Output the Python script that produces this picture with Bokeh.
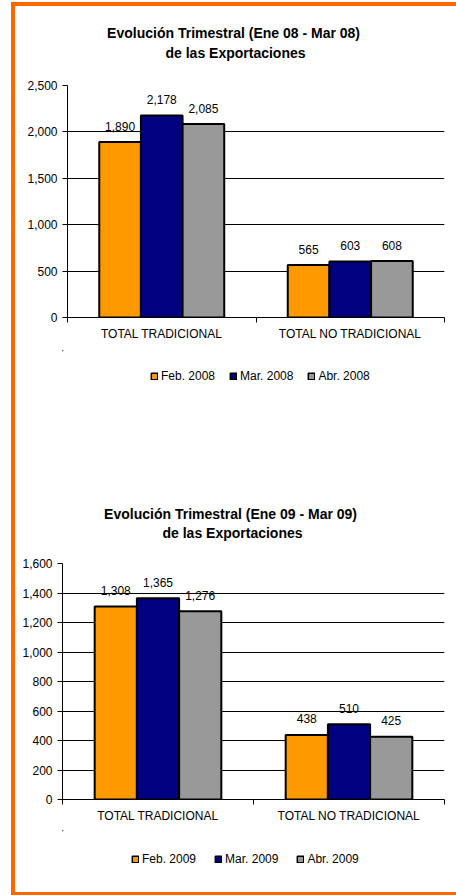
from bokeh.plotting import figure
from bokeh.models import (Range1d, FixedTicker, NumeralTickFormatter, ColumnDataSource,
                          LabelSet, Label, Legend, LegendItem, Spacer)
from bokeh.core.properties import value
from bokeh.layouts import column, row
from bokeh.embed import file_html
from bokeh.resources import INLINE

# ---------------- data ----------------
categories = ["TOTAL TRADICIONAL", "TOTAL NO TRADICIONAL"]

months_2008 = ["Feb. 2008", "Mar. 2008", "Abr. 2008"]
feb_2008 = [1890, 565]
mar_2008 = [2178, 603]
abr_2008 = [2085, 608]
y_ticks_2008 = [0, 500, 1000, 1500, 2000, 2500]
title_2008 = ["Evolución Trimestral  (Ene 08 - Mar 08)", "de las Exportaciones"]

months_2009 = ["Feb. 2009", "Mar. 2009", "Abr. 2009"]
feb_2009 = [1308, 438]
mar_2009 = [1365, 510]
abr_2009 = [1276, 425]
y_ticks_2009 = [0, 200, 400, 600, 800, 1000, 1200, 1400, 1600]
title_2009 = ["Evolución Trimestral  (Ene 09 - Mar 09)", "de las Exportaciones"]

bar_colors = ["#FF9900", "#000080", "#999999"]
FONT = "Liberation Sans"
BORDER = "#FF6600"
W = 441
BL, BR = 47, 12   # common left / right borders of every figure


def blank_fig(H):
    f = figure(width=W, height=H, output_backend="svg", toolbar_location=None, tools="",
               x_range=Range1d(BL, W - BR), y_range=Range1d(H, 0),
               x_axis_type=None, y_axis_type=None,
               min_border_left=BL, min_border_right=BR, min_border_top=0,
               min_border_bottom=0, title=None)
    f.outline_line_color = None
    f.background_fill_color = "white"
    f.border_fill_color = "white"
    return f


def make_header(H, lines, cx, cys):
    h = blank_fig(H)
    for t, y in zip(lines, cys):
        h.add_layout(Label(x=cx, y=y, text=t, text_align="center", text_baseline="middle",
                           text_font=FONT, text_font_size="14px",
                           text_font_style="bold", text_color="black"))
    return h


def make_legend(H, months, loc, spacing):
    lf = blank_fig(H)
    items = []
    for m, c in zip(months, bar_colors):
        # legend swatch renderer, kept far outside the visible range
        r = lf.vbar(x=[-5000], top=[-5000], bottom=-5000, width=1, fill_color=c,
                    line_color="black", line_width=1.5)
        items.append(LegendItem(label=m, renderers=[r]))
    lf.add_layout(Legend(items=items, orientation="horizontal", location=loc,
                         glyph_width=8, glyph_height=8, label_standoff=3,
                         spacing=spacing, padding=0, margin=0,
                         border_line_color=None, background_fill_alpha=0,
                         label_text_font=FONT, label_text_font_size="12px",
                         label_text_color="black"))
    return lf


def make_chart(width, H, tb, series, yticks):
    top, bottom = tb
    n = len(categories)
    p = figure(width=width, height=H, output_backend="svg", toolbar_location=None, tools="",
               x_range=Range1d(0, n), y_range=Range1d(yticks[0], yticks[-1]),
               min_border_left=BL, min_border_right=BR,
               min_border_top=top, min_border_bottom=bottom, title=None)
    p.outline_line_color = None
    p.background_fill_color = "white"
    p.border_fill_color = "white"

    bw = 0.221
    offsets = [-bw, 0.0, bw]
    for j, vals in enumerate(series):
        xs = [i + 0.5 + offsets[j] for i in range(n)]
        src = ColumnDataSource(dict(x=xs, top=vals, lab=[f"{v:,}" for v in vals]))
        p.vbar(x="x", top="top", bottom=0, width=bw, source=src,
               fill_color=bar_colors[j], line_color="black", line_width=2)
        p.add_layout(LabelSet(x="x", y="top", text="lab", source=src,
                              text_align="center", text_baseline="middle", y_offset=16,
                              text_font=value(FONT), text_font_size="12px",
                              text_color="black"))

    # x axis: category labels at centers, tick marks at boundaries
    xa = p.xaxis[0]
    xa.ticker = FixedTicker(ticks=[i + 0.5 for i in range(n)],
                            minor_ticks=list(range(n + 1)))
    xa.major_label_overrides = {i + 0.5: c for i, c in enumerate(categories)}
    xa.major_tick_out = 0
    xa.major_tick_in = 0
    xa.minor_tick_out = 5
    xa.minor_tick_in = 0
    xa.minor_tick_line_color = "black"
    xa.axis_line_color = "black"
    xa.major_label_text_font = FONT
    xa.major_label_text_font_size = "12px"
    xa.major_label_text_color = "black"
    xa.major_label_standoff = 4

    ya = p.yaxis[0]
    ya.ticker = FixedTicker(ticks=yticks, minor_ticks=[])
    ya.formatter = NumeralTickFormatter(format="0,0")
    ya.major_tick_out = 5
    ya.major_tick_in = 0
    ya.minor_tick_out = 0
    ya.minor_tick_in = 0
    ya.major_tick_line_color = "black"
    ya.axis_line_color = "black"
    ya.major_label_text_font = FONT
    ya.major_label_text_font_size = "12px"
    ya.major_label_text_color = "black"
    ya.major_label_standoff = 5

    p.xgrid.visible = False
    p.ygrid.ticker = FixedTicker(ticks=yticks, minor_ticks=[])
    p.ygrid.grid_line_color = "black"
    p.ygrid.grid_line_width = 1
    return p


# ---- chart 1 (page y 6..440) ----
h1 = make_header(64, title_2008, 220, [26, 46])
p1 = make_chart(W - 5, 280, (15, 33), [feb_2008, mar_2008, abr_2008], y_ticks_2008)
l1 = make_legend(90, months_2008, (88, 57), 14)

# ---- chart 2 (page y 440..892) ----
h2 = make_header(108, title_2009, 217, [73, 92])
p2 = make_chart(W, 282, (15, 31), [feb_2009, mar_2009, abr_2009], y_ticks_2009)
l2 = make_legend(62, months_2009, (69, 26), 18)

orange = {"background-color": BORDER}
right_col = column(Spacer(width=W, height=2),
                   Spacer(width=W, height=4, styles=orange),
                   h1, row(Spacer(width=5, height=280), p1, spacing=0), l1,
                   h2, p2, l2,
                   Spacer(width=W, height=3, styles=orange), spacing=0)
left_col = column(Spacer(width=4, height=2),
                  Spacer(width=4, height=893, styles=orange), spacing=0)
layout = row(Spacer(width=11, height=895), left_col, right_col, spacing=0)

open("out.html", "w").write(file_html(layout, INLINE))
